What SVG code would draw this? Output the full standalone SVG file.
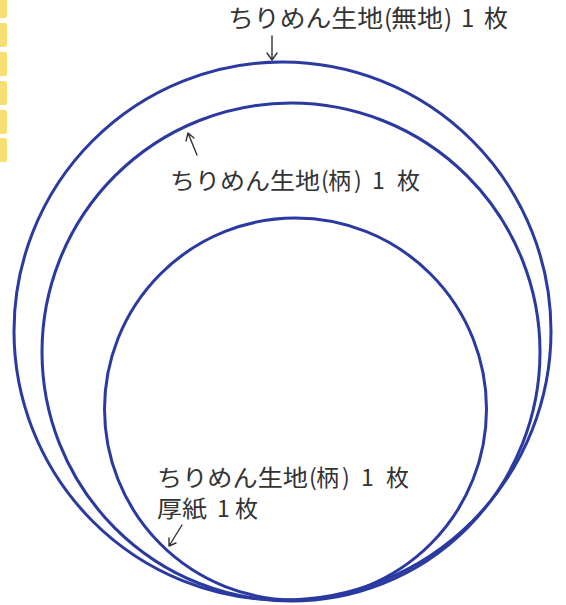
<svg xmlns="http://www.w3.org/2000/svg" width="566" height="605" viewBox="0 0 566 605">
<style>
.ring{fill:none;stroke:#2a3aa0;stroke-width:3}
.lbl{font-family:"Noto Sans CJK JP","Noto Sans",sans-serif;font-size:23px;fill:#333}
.big{font-size:24px}
.arr{fill:none;stroke:#333;stroke-width:1.4;stroke-linecap:round;stroke-linejoin:round}
.tab{fill:#f8df72}
</style>
<g id="tabs">
<rect class="tab" x="-4" y="-4" width="11" height="22" rx="2"/>
<rect class="tab" x="-4" y="23" width="11" height="24" rx="2"/>
<rect class="tab" x="-4" y="52" width="11" height="24" rx="2"/>
<rect class="tab" x="-4" y="81" width="11" height="24" rx="2"/>
<rect class="tab" x="-4" y="110" width="11" height="24" rx="2"/>
<rect class="tab" x="-4" y="138" width="11" height="24" rx="2"/>
</g>
<g id="outer"><ellipse class="ring" cx="282.5" cy="331" rx="268.5" ry="269"/></g>
<g id="middle"><circle class="ring" cx="291" cy="352" r="249"/></g>
<g id="inner"><circle class="ring" cx="295.5" cy="409" r="191"/></g>
<g id="connectors">
<path class="arr" d="M272 36 L272 60 M267 53 L272 60 L277 53"/>
<path class="arr" d="M197 155 L188 133 M186 141 L188 133 L194 138"/>
<path class="arr" d="M182 525 L169 546 M169 538 L169 546 L176 543"/>
</g>
<g id="label-outer"><text class="lbl big" y="27"><tspan x="228" textLength="155" lengthAdjust="spacingAndGlyphs">ちりめん生地</tspan><tspan x="384">(</tspan><tspan x="391" textLength="52" lengthAdjust="spacingAndGlyphs">無地</tspan><tspan x="444">)</tspan><tspan x="461">1</tspan><tspan x="484">枚</tspan></text></g>
<g id="label-middle"><text class="lbl" y="189"><tspan x="170" textLength="150" lengthAdjust="spacingAndGlyphs">ちりめん生地</tspan><tspan x="321">(</tspan><tspan x="328">柄</tspan><tspan x="354">)</tspan><tspan x="372">1</tspan><tspan x="397">枚</tspan></text></g>
<g id="label-inner">
<text class="lbl" y="486"><tspan x="157" textLength="151" lengthAdjust="spacingAndGlyphs">ちりめん生地</tspan><tspan x="309">(</tspan><tspan x="316">柄</tspan><tspan x="342">)</tspan><tspan x="361">1</tspan><tspan x="386">枚</tspan></text>
<text class="lbl" y="517"><tspan x="157" textLength="50" lengthAdjust="spacingAndGlyphs">厚紙</tspan><tspan x="217">1</tspan><tspan x="235">枚</tspan></text>
</g>
</svg>
